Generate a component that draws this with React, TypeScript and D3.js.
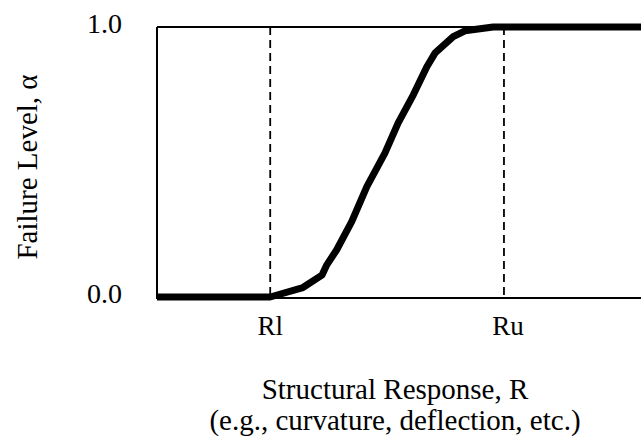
import * as d3 from "d3";

// Structural response (arbitrary 0-100 units) and failure level
const responseR = [0, 23.2, 29.9, 33.8, 34.8, 36.8, 39.9, 43.0, 46.7, 49.4, 52.5, 55.3, 57.0, 60.7, 63.1, 68.9, 100];
const failureAlpha = [0, 0, 0.035, 0.081, 0.119, 0.174, 0.279, 0.409, 0.533, 0.644, 0.748, 0.853, 0.904, 0.964, 0.986, 1.0, 1.0];

const yTicks = [0, 1];
const markerNames = ["Rl", "Ru"];
const markerValues = [23.2, 71.1];

export default function App({
  width = 641,
  height = 445,
  marginTop = 27,
  marginRight = -4,
  marginBottom = 148,
  marginLeft = 157,
}) {
  const x = d3.scaleLinear([0, 100], [marginLeft, width - marginRight]);
  const y = d3.scaleLinear([0, 1], [height - marginBottom, marginTop]);

  const points = responseR.map((r, i) => [r, failureAlpha[i]] as [number, number]);
  const line = d3.line<[number, number]>()
    .x(d => x(d[0]))
    .y(d => y(d[1]));

  const font = "'Liberation Serif', 'Times New Roman', serif";

  return (
    <svg
      width={width}
      height={height}
      viewBox={`0 0 ${width} ${height}`}
      style={{ position: "absolute", left: 0, top: 0, background: "white" }}
      fontFamily={font}
    >
      {/* plot frame */}
      <line x1={x(0)} x2={width} y1={y(1)} y2={y(1)} stroke="black" strokeWidth={2} />
      <line x1={x(0)} x2={width} y1={y(0) + 1} y2={y(0) + 1} stroke="black" strokeWidth={2} />
      <line x1={x(0)} x2={x(0)} y1={y(1)} y2={y(0) + 2} stroke="black" strokeWidth={2} />

      {/* Rl / Ru markers */}
      {markerValues.map((v, i) => (
        <g key={markerNames[i]}>
          <line
            x1={x(v)} x2={x(v)} y1={y(1)} y2={y(0)}
            stroke="black" strokeWidth={1.8} strokeDasharray="8,5"
          />
          <text x={x(v) + i * 4} y={335} fontSize={27} textAnchor="middle">{markerNames[i]}</text>
        </g>
      ))}

      {/* y ticks */}
      {yTicks.map(t => (
        <text key={t} x={122} y={y(t) + 6} fontSize={28} textAnchor="end">{t.toFixed(1)}</text>
      ))}

      <path d={line(points) ?? ""} fill="none" stroke="black" strokeWidth={7} strokeLinejoin="round" />

      {/* axis titles */}
      <text x={395} y={399} fontSize={29} textAnchor="middle">Structural Response, R</text>
      <text x={395} y={430} fontSize={29} textAnchor="middle">(e.g., curvature, deflection, etc.)</text>
      <text transform={`translate(37,${167}) rotate(-90)`} fontSize={29} textAnchor="middle">Failure Level, α</text>
    </svg>
  );
}
